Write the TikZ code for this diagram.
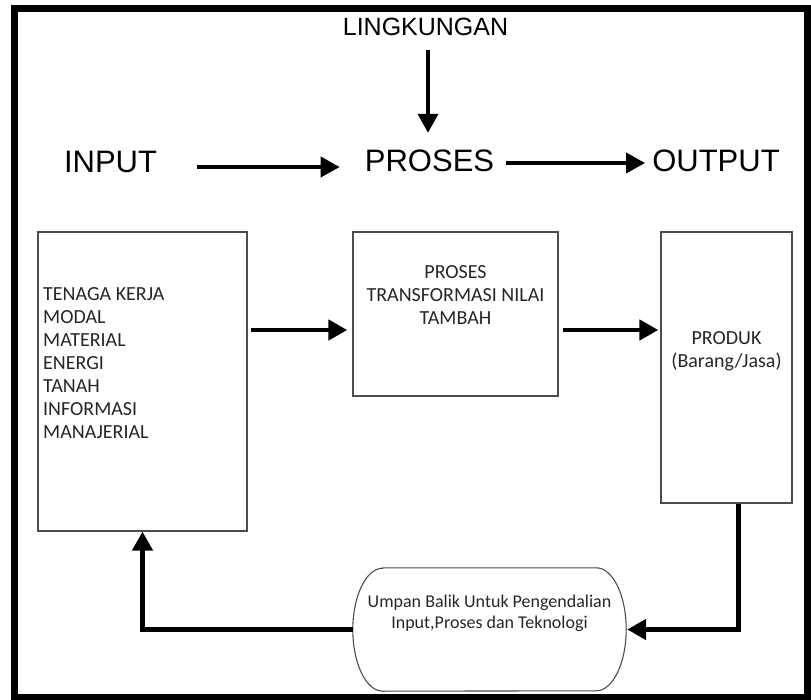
\documentclass[tikz,border=0pt]{standalone}
\usepackage{fontspec}
\setmainfont{Carlito}
\newfontfamily\headfont{Liberation Sans}
\usepackage{tikz}
\usetikzlibrary{arrows.meta}

\begin{document}
\begin{tikzpicture}[x=1pt,y=-1pt,>={Triangle[length=19pt,width=20pt]}]
	\def \toprow{161}
	\def \arrowrow{330}
	\tikzstyle{h-node}=[font=\headfont\fontsize{31}{31}\selectfont,inner sep=0pt]
	\tikzstyle{b-node}=[rectangle,draw=black!70,line width=1.3pt,inner sep=0pt]
	\tikzstyle{t-node}=[font=\fontsize{20}{23}\selectfont,text=black!85,inner sep=0pt,align=center]
	\tikzstyle{thin-flow}=[->,line width=3.8pt]
	\tikzstyle{flow}=[->,line width=4.6pt]
	\useasboundingbox (0,0) rectangle (811,700);
	% frame
	\draw[line width=7pt] (14.5,8.5) rectangle (807.5,697);

	% labels
	\node[h-node,font=\headfont\fontsize{25}{25}\selectfont] (lingkungan) at (425.5,27) {LINGKUNGAN};
	\node[h-node] (input-label) at (110.5,162) {INPUT};
	\node[h-node] (proses-label) at (429.5,\toprow) {PROSES};
	\node[h-node] (output-label) at (716,\toprow) {OUTPUT};

	% boxes
	\node[b-node,minimum width=209pt,minimum height=299pt] (input-box) at (142.5,381.5) {};
	\node[b-node,minimum width=205pt,minimum height=164pt] (proses-box) at (455.5,314) {};
	\node[b-node,minimum width=131pt,minimum height=271pt] (output-box) at (726.5,367.5) {};
	\node[minimum width=273pt,minimum height=123pt,inner sep=0pt] (umpan) at (489.5,629.5) {};
	\draw[draw=black!70,line width=1.1pt] ([xshift=30pt]umpan.north west) -- ([xshift=-30pt]umpan.north east)
		arc[start angle=90,end angle=-90,x radius=30pt,y radius=61.5pt]
		-- ([xshift=30pt]umpan.south west)
		arc[start angle=270,end angle=90,x radius=30pt,y radius=61.5pt] -- cycle;

	% box texts
	\node[t-node,anchor=west,align=left] (input-list) at (43,363) {TENAGA KERJA\\MODAL\\MATERIAL\\ENERGI\\TANAH\\INFORMASI\\MANAJERIAL};
	\node[t-node] (proses-text) at (455.5,295.5) {PROSES\\TRANSFORMASI NILAI\\TAMBAH};
	\node[t-node] (output-text) at (726.5,351) {PRODUK\\(Barang/Jasa)};
	\node[t-node,font=\fontsize{18}{21}\selectfont] (umpan-text) at (489.5,613) {Umpan Balik Untuk Pengendalian\\Input,Proses dan Teknologi};

	\coordinate (mid-row) at (0,\arrowrow);

	\draw[thin-flow,shorten <=14pt,shorten >=17pt] ([xshift=2.5pt]lingkungan.south) -- ([xshift=-1.5pt]proses-label.north);
	\draw[thin-flow,shorten <=40pt,shorten >=25pt] ([yshift=-5pt]input-label.east) -- ([yshift=-5pt]input-label.east -| proses-label.west);
	\draw[thin-flow,shorten <=12pt,shorten >=7pt] ([yshift=-2pt]proses-label.east) -- ([yshift=-2pt]proses-label.east -| output-label.west);
	\draw[flow,shorten <=3pt,shorten >=5pt] (input-box.east |- mid-row) -- (proses-box.west |- mid-row);
	\draw[flow,shorten <=4pt,shorten >=2pt] (proses-box.east |- mid-row) -- (output-box.west |- mid-row);
	\draw[flow,line width=5pt] ([xshift=11.5pt]output-box.south) |- ([xshift=1pt]umpan.east);
	\draw[flow,line width=5pt] (umpan.west) -| (input-box.south);

\end{tikzpicture}
\end{document}
